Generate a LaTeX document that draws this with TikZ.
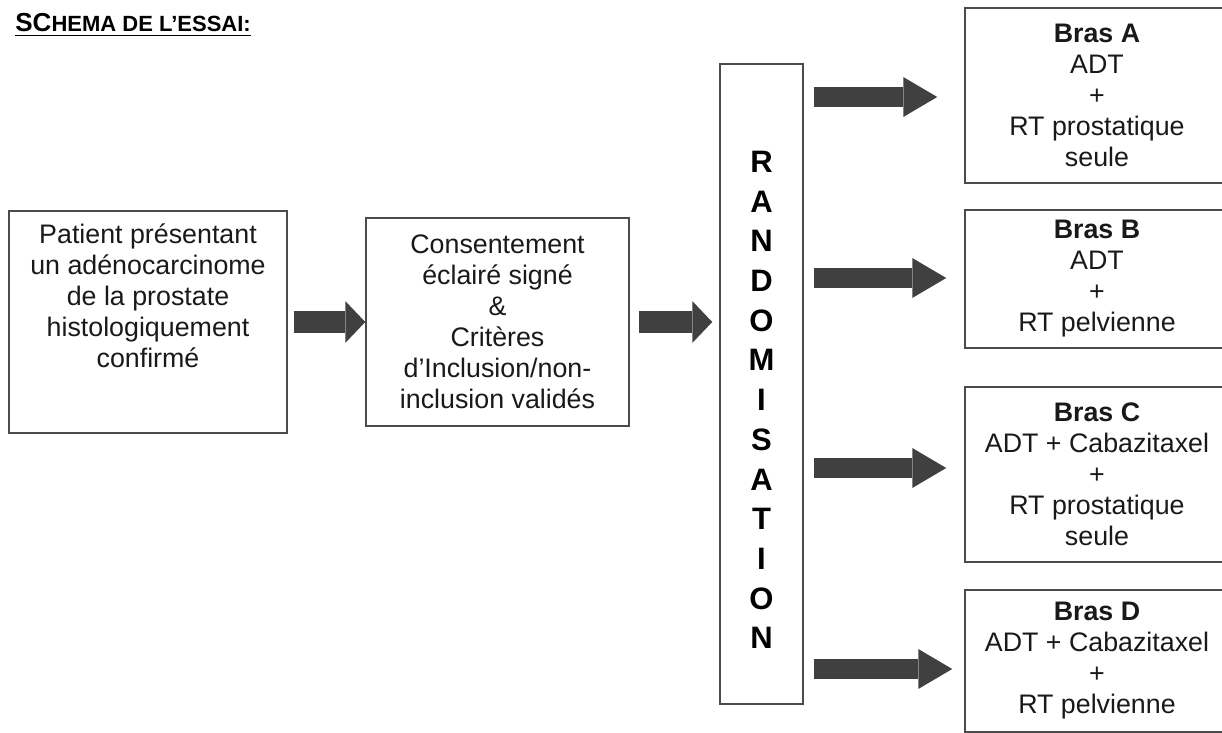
\documentclass[tikz,border=0pt]{standalone}
\usepackage{fontspec}
\setmainfont{Liberation Sans}
\usepackage{tikz}
\usetikzlibrary{arrows.meta,positioning,calc}
\definecolor{arrgray}{RGB}{64,64,64}
\definecolor{edgegray}{RGB}{75,75,75}
\definecolor{txtgray}{RGB}{25,25,25}
\tikzset{
  basebox/.style={rectangle,draw=edgegray,line width=0.75pt,align=center,inner sep=2pt,
    text=txtgray,font=\fontsize{13.4}{15.5}\selectfont},
  stepbox/.style={basebox},
  armbox/.style={basebox,minimum width=132pt},
  randbox/.style={basebox,minimum width=41.5pt,minimum height=320pt},
  randletters/.style={align=center,inner sep=0pt,text=black,
    font=\fontsize{15.5}{19.85}\selectfont\bfseries},
  fatarr/.style={-{Triangle[length=10pt,width=21pt,line width=0pt]},line width=11pt,draw=arrgray},
  armarr/.style={-{Triangle[length=17pt,width=20pt,line width=0pt]},line width=10pt,draw=arrgray}
}

\begin{document}
\begin{tikzpicture}[x=0.5pt,y=-0.5pt]

  \useasboundingbox (0,0) rectangle (1222,733);

  %% Title
  \node[anchor=base west,inner sep=0pt,font=\bfseries] (title) at (15,32)
    {\underline{{\fontsize{13}{15}\selectfont SC}{\fontsize{11}{13}\selectfont HEMA DE L’ESSAI:}}};

  %% Patient
  \node[stepbox,minimum width=139pt,minimum height=111pt] (patient) at (148,322)
    {Patient présentant\\un adénocarcinome\\de la prostate\\histologiquement\\confirmé\\[11pt]\mbox{}};

  %% Consent / criteria
  \node[stepbox,minimum width=131.5pt,minimum height=104pt] (consent) at (497.5,322)
    {Consentement\\éclairé signé\\\&\\Critères\\d’Inclusion/non-\\inclusion validés};

  %% Randomisation
  \node[randbox] (rand) at (761.5,384) {};
  \node[randletters] (randtxt) at ([yshift=-8pt]rand.center)
    {R\\A\\N\\D\\O\\M\\I\\S\\A\\T\\I\\O\\N};

  %% Arms
  \node[armbox,minimum height=87.5pt] (armA) at (1097,95.5)
    {\textbf{Bras A}\\ADT\\+\\RT prostatique\\seule};
  \node[armbox,minimum height=69pt] (armB) at (1097,279)
    {\textbf{Bras B}\\ADT\\+\\RT pelvienne};
  \node[armbox,minimum height=87.5pt] (armC) at (1097,474.5)
    {\textbf{Bras C}\\ADT + Cabazitaxel\\+\\RT prostatique\\seule};
  \node[armbox,minimum height=71pt] (armD) at (1097,661)
    {\textbf{Bras D}\\ADT + Cabazitaxel\\+\\RT pelvienne};

  %% ── ARROWS ──────────────────────────────────────────────
  \draw[fatarr,shorten <=3pt] (patient.east) -- (consent.west);
  \draw[fatarr,shorten <=4.5pt,shorten >=3.5pt] (consent.east) -- (consent.east -| rand.west);

  %% randomisation → arms
  \draw[armarr,shorten <=5pt,shorten >=13.5pt] ($(rand.east |- armA.west)+(0,1.5)$) -- ($(armA.west)+(0,1.5)$);
  \draw[armarr,shorten <=5pt,shorten >=9pt] ($(rand.east |- armB.west)+(0,-1)$) -- ($(armB.west)+(0,-1)$);
  \draw[armarr,shorten <=5pt,shorten >=9pt] ($(rand.east |- armC.west)+(0,-6.5)$) -- ($(armC.west)+(0,-6.5)$);
  \draw[armarr,shorten <=5pt,shorten >=6pt] ($(rand.east |- armD.west)+(0,8)$) -- ($(armD.west)+(0,8)$);

\end{tikzpicture}
\end{document}
